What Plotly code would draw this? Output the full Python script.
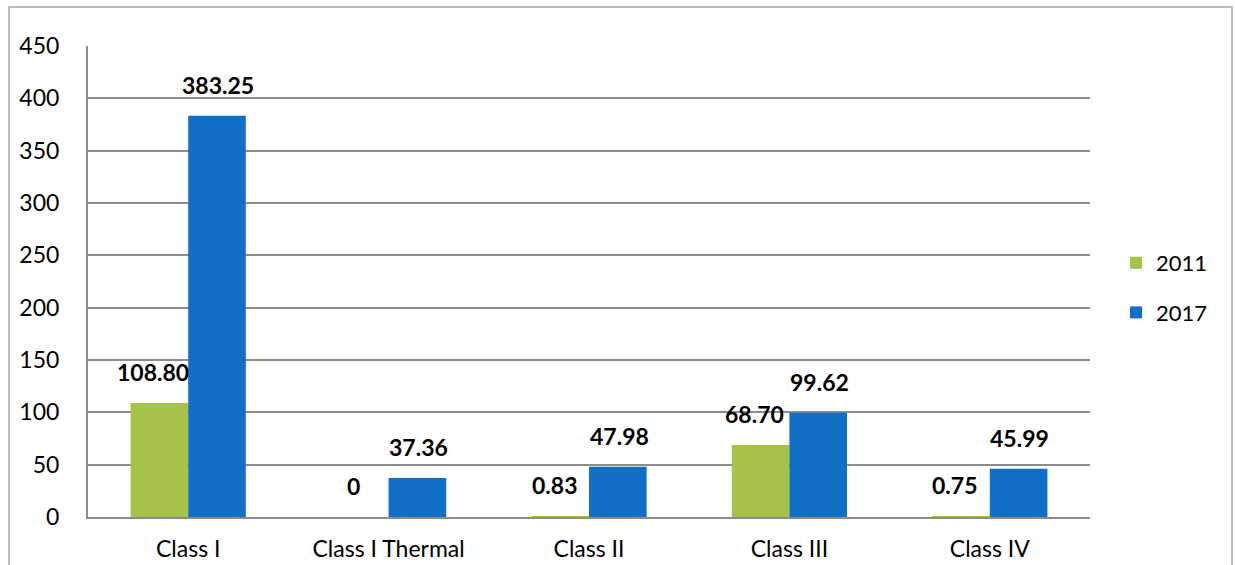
import plotly.graph_objects as go

categories = ["Class I", "Class I Thermal", "Class II", "Class III", "Class IV"]
values_2011 = [108.80, 0, 0.83, 68.70, 0.75]
values_2017 = [383.25, 37.36, 47.98, 99.62, 45.99]
labels_2011 = ["108.80", "0", "0.83", "68.70", "0.75"]
labels_2017 = ["383.25", "37.36", "47.98", "99.62", "45.99"]
series_names = ["2011", "2017"]

GREEN = "#A5C249"
BLUE = "#1170C6"
FONT = "Lato, 'Open Sans', sans-serif"

W, H = 1235, 565
L, R, T, B = 88, 145, 46, 48
pw, ph = W - L - R, H - T - B

fig = go.Figure()
fig.add_trace(go.Bar(x=categories, y=values_2011, name=series_names[0],
                     marker=dict(color=GREEN, line=dict(width=0)), legendgroup="a"))
fig.add_trace(go.Bar(x=categories, y=values_2017, name=series_names[1],
                     marker=dict(color=BLUE, line=dict(width=0)), legendgroup="b"))

annotations = []
for cat, v, t in zip(categories, values_2011, labels_2011):
    annotations.append(dict(x=cat, y=v, text="<b>%s</b>" % t, showarrow=False,
                            xshift=-35, yshift=15, yanchor="bottom",
                            font=dict(family=FONT, size=23, color="#000")))
for cat, v, t in zip(categories, values_2017, labels_2017):
    annotations.append(dict(x=cat, y=v, text="<b>%s</b>" % t, showarrow=False,
                            xshift=30, yshift=15, yanchor="bottom",
                            font=dict(family=FONT, size=23, color="#000")))

fig.update_layout(
    template="none",
    width=W, height=H,
    margin=dict(l=L, r=R, t=T, b=B, autoexpand=False),
    paper_bgcolor="white", plot_bgcolor="white",
    barmode="group", bargap=0.425, bargroupgap=0,
    font=dict(family=FONT, size=22, color="#000"),
    xaxis=dict(showgrid=False, showline=True, linecolor="#8c8c8c", linewidth=2,
               ticks="", tickfont=dict(size=23), ticklabelstandoff=10, automargin=False),
    yaxis=dict(range=[0, 450], dtick=50, showgrid=True, gridcolor="#8c8c8c", gridwidth=1.5,
               showline=True, linecolor="#8c8c8c", linewidth=2, zeroline=False,
               ticks="", tickfont=dict(size=23), ticklabelstandoff=22, automargin=False),
    legend=dict(x=(1116 - L) / pw, y=(517 - 288) / ph, xanchor="left", yanchor="middle",
                font=dict(size=22), tracegroupgap=18, itemwidth=30),
    annotations=annotations,
    showlegend=True,
    shapes=[dict(type="rect", xref="paper", yref="paper",
                 x0=(9 - L) / pw, x1=(1232 - L) / pw,
                 y0=(517 - 600) / ph, y1=(517 - 7) / ph,
                 line=dict(color="#a6a6a6", width=1.5), fillcolor="rgba(0,0,0,0)", layer="below")],
)

fig.write_html("out.html", config={"displayModeBar": False},
               post_script="document.body.style.margin='0';document.body.style.overflow='hidden';")
